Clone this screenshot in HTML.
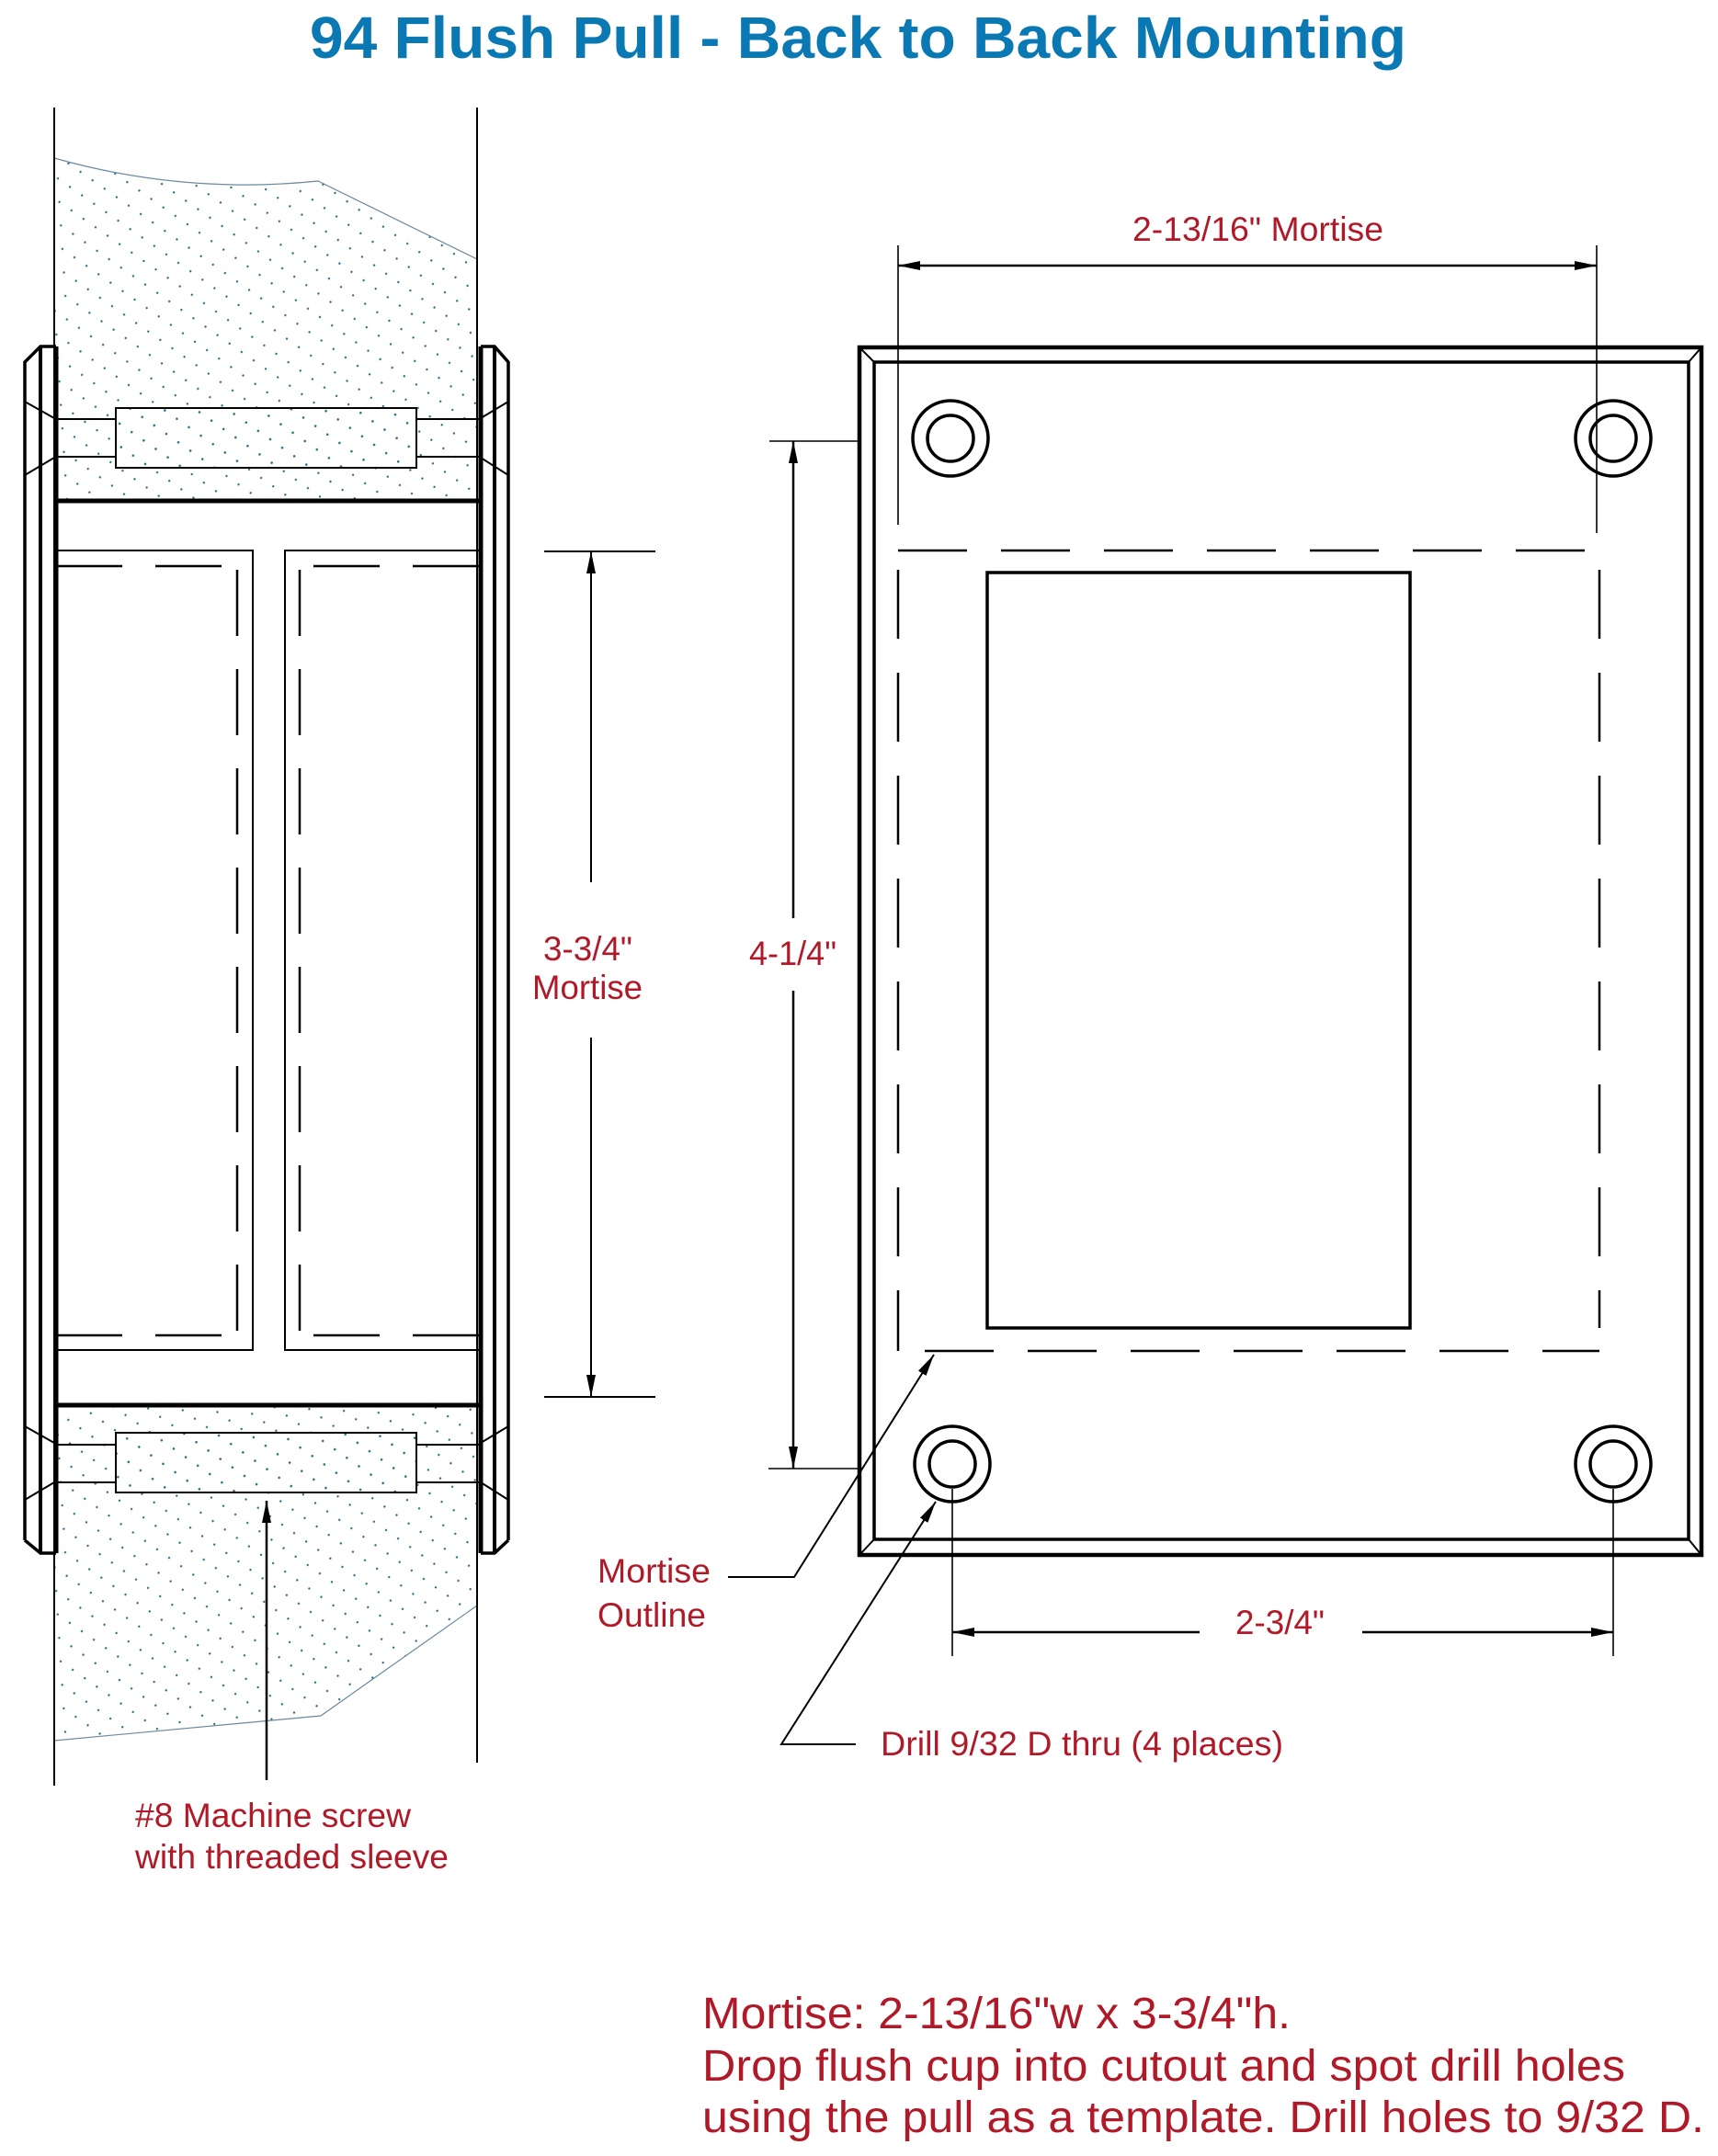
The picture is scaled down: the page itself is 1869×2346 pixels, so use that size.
<!DOCTYPE html>
<html><head><meta charset="utf-8"><style>
html,body{margin:0;padding:0;background:#fff;}
svg{display:block;}
text{font-family:"Liberation Sans",sans-serif;}
</style></head><body>
<svg width="1869" height="2346" viewBox="0 0 1869 2346" xmlns="http://www.w3.org/2000/svg">
<defs>
<pattern id="dots" width="16" height="20" patternUnits="userSpaceOnUse" patternTransform="rotate(35)">
<circle cx="3" cy="3" r="1.2" fill="#2f6f86"/>
</pattern>
<marker id="ar" viewBox="0 0 24 10" refX="24" refY="5" markerWidth="24" markerHeight="10" markerUnits="userSpaceOnUse" orient="auto">
<path d="M0,0 L24,5 L0,10 Z" fill="#000"/>
</marker>
</defs>

<text x="337" y="63" font-size="64" font-weight="bold" fill="#0a78b2" textLength="1193" lengthAdjust="spacingAndGlyphs">94 Flush Pull - Back to Back Mounting</text>

<!-- ===== LEFT VIEW ===== -->
<path d="M59 172 Q200 212 346 197 L519 282 L519 545 L59 545 Z" fill="url(#dots)" stroke="none"/>
<path d="M59 172 Q200 212 346 197 L519 282" fill="none" stroke="#6b8aa0" stroke-width="1.2"/>
<path d="M59 1529 L519 1529 L519 1747 L349 1867 L59 1894 Z" fill="url(#dots)" stroke="none"/>
<path d="M519 1747 L349 1867 L59 1894" fill="none" stroke="#6b8aa0" stroke-width="1.2"/>

<line x1="59" y1="117" x2="59" y2="1943" stroke="#000" stroke-width="2"/>
<line x1="519" y1="117" x2="519" y2="1918" stroke="#000" stroke-width="2"/>

<rect x="126" y="444" width="327" height="65" fill="url(#dots)" stroke="#000" stroke-width="2"/>
<rect x="126" y="1559" width="327" height="65" fill="url(#dots)" stroke="#000" stroke-width="2"/>
<g stroke="#000" stroke-width="2">
<line x1="59" y1="456" x2="126" y2="456"/><line x1="59" y1="497" x2="126" y2="497"/>
<line x1="453" y1="456" x2="521" y2="456"/><line x1="453" y1="497" x2="521" y2="497"/>
<line x1="59" y1="1572" x2="126" y2="1572"/><line x1="59" y1="1613" x2="126" y2="1613"/>
<line x1="453" y1="1572" x2="521" y2="1572"/><line x1="453" y1="1613" x2="521" y2="1613"/>
<line x1="27" y1="437" x2="59" y2="455"/><line x1="27" y1="517" x2="59" y2="498"/>
<line x1="27" y1="1552" x2="59" y2="1570"/><line x1="27" y1="1632" x2="59" y2="1613"/>
<line x1="553" y1="437" x2="523" y2="455"/><line x1="553" y1="517" x2="523" y2="498"/>
<line x1="553" y1="1552" x2="523" y2="1570"/><line x1="553" y1="1632" x2="523" y2="1613"/>
</g>

<g fill="none" stroke="#000" stroke-linejoin="miter">
<path d="M27 1676 L27 394 L44 377 L61 377" stroke-width="3.5"/>
<path d="M27 1676 L44 1690 L61 1690" stroke-width="3.5"/>
<line x1="44" y1="377" x2="44" y2="1690" stroke-width="4"/>
<line x1="61" y1="377" x2="61" y2="1690" stroke-width="5"/>
<path d="M553 1676 L553 394 L538 377 L523 377" stroke-width="3.5"/>
<path d="M553 1676 L538 1690 L523 1690" stroke-width="3.5"/>
<line x1="538" y1="377" x2="538" y2="1690" stroke-width="4"/>
<line x1="523" y1="377" x2="523" y2="1690" stroke-width="5"/>
<line x1="61" y1="545" x2="523" y2="545" stroke-width="5"/>
<line x1="61" y1="1529" x2="523" y2="1529" stroke-width="5"/>
<path d="M61 599 L275 599 L275 1469 L61 1469" stroke-width="2"/>
<path d="M521 599 L310 599 L310 1469 L521 1469" stroke-width="2"/>
<g stroke-width="2.5" stroke-dasharray="72 36">
<line x1="61" y1="616" x2="258" y2="616"/>
<line x1="258" y1="620" x2="258" y2="1453"/>
<line x1="61" y1="1453" x2="258" y2="1453"/>
<line x1="521" y1="616" x2="326" y2="616"/>
<line x1="326" y1="620" x2="326" y2="1453"/>
<line x1="521" y1="1453" x2="326" y2="1453"/>
</g>
</g>

<line x1="290" y1="1937" x2="290" y2="1633" stroke="#000" stroke-width="2.5" marker-end="url(#ar)"/>
<text x="147" y="1988" font-size="37" fill="#b01a28" textLength="300" lengthAdjust="spacingAndGlyphs">#8 Machine screw</text>
<text x="147" y="2033" font-size="37" fill="#b01a28" textLength="341" lengthAdjust="spacingAndGlyphs">with threaded sleeve</text>

<g stroke="#000" stroke-width="2">
<line x1="592" y1="600" x2="713" y2="600"/>
<line x1="592" y1="1520" x2="713" y2="1520"/>
<line x1="643" y1="960" x2="643" y2="600" marker-end="url(#ar)"/>
<line x1="643" y1="1129" x2="643" y2="1520" marker-end="url(#ar)"/>
</g>
<text x="591" y="1045" font-size="37" fill="#b01a28" textLength="97" lengthAdjust="spacingAndGlyphs">3-3/4"</text>
<text x="579" y="1087" font-size="37" fill="#b01a28" textLength="120" lengthAdjust="spacingAndGlyphs">Mortise</text>

<!-- ===== RIGHT VIEW ===== -->
<g fill="none" stroke="#000">
<rect x="935" y="378" width="916" height="1314" stroke-width="4.5"/>
<rect x="951" y="394" width="886" height="1281" stroke-width="3.5"/>
<g stroke-width="2">
<line x1="935" y1="378" x2="951" y2="394"/><line x1="1851" y1="378" x2="1837" y2="394"/>
<line x1="935" y1="1692" x2="951" y2="1675"/><line x1="1851" y1="1692" x2="1837" y2="1675"/>
</g>
<g stroke-width="3.5">
<circle cx="1034" cy="477" r="41"/><circle cx="1034" cy="477" r="25"/>
<circle cx="1755" cy="477" r="41"/><circle cx="1755" cy="477" r="25"/>
<circle cx="1036" cy="1593" r="41"/><circle cx="1036" cy="1593" r="25"/>
<circle cx="1755" cy="1593" r="41"/><circle cx="1755" cy="1593" r="25"/>
</g>
<rect x="1074" y="623" width="460" height="822" stroke-width="3.5"/>
<g stroke-width="2.5" stroke-dasharray="75 37">
<line x1="977" y1="599" x2="1740" y2="599"/>
<line x1="1006" y1="1470" x2="1740" y2="1470"/>
<line x1="977" y1="620" x2="977" y2="1470"/>
<line x1="1740" y1="620" x2="1740" y2="1445"/>
</g>
<g stroke-width="1.6">
<line x1="977" y1="267" x2="977" y2="571"/>
<line x1="1737" y1="267" x2="1737" y2="580"/>
<line x1="1036" y1="1620" x2="1036" y2="1802"/>
<line x1="1755" y1="1620" x2="1755" y2="1802"/>
<line x1="837" y1="480" x2="935" y2="480"/>
<line x1="836" y1="1598" x2="935" y2="1598"/>
</g>
<g stroke-width="2.5">
<line x1="1300" y1="289" x2="977" y2="289" marker-end="url(#ar)"/>
<line x1="1300" y1="289" x2="1737" y2="289" marker-end="url(#ar)"/>
<line x1="863" y1="999" x2="863" y2="480" marker-end="url(#ar)"/>
<line x1="863" y1="1078" x2="863" y2="1598" marker-end="url(#ar)"/>
<line x1="1305" y1="1776" x2="1036" y2="1776" marker-end="url(#ar)"/>
<line x1="1482" y1="1776" x2="1755" y2="1776" marker-end="url(#ar)"/>
</g>
<g stroke-width="2">
<polyline points="792,1716 864,1716 1016,1474" marker-end="url(#ar)"/>
<polyline points="931,1898 850,1898 1018,1634" marker-end="url(#ar)"/>
</g>
</g>
<text x="1232" y="262" font-size="37" fill="#b01a28" textLength="273" lengthAdjust="spacingAndGlyphs">2-13/16" Mortise</text>
<text x="815" y="1050" font-size="37" fill="#b01a28" textLength="95" lengthAdjust="spacingAndGlyphs">4-1/4"</text>
<text x="1344" y="1778" font-size="37" fill="#b01a28" textLength="97" lengthAdjust="spacingAndGlyphs">2-3/4"</text>
<text x="650" y="1722" font-size="37" fill="#b01a28" textLength="123" lengthAdjust="spacingAndGlyphs">Mortise</text>
<text x="650" y="1770" font-size="37" fill="#b01a28" textLength="118" lengthAdjust="spacingAndGlyphs">Outline</text>
<text x="958" y="1910" font-size="37" fill="#b01a28" textLength="438" lengthAdjust="spacingAndGlyphs">Drill 9/32 D thru (4 places)</text>

<text x="764" y="2207" font-size="48" fill="#b01a28" textLength="640" lengthAdjust="spacingAndGlyphs">Mortise: 2-13/16"w x 3-3/4"h.</text>
<text x="764" y="2264" font-size="48" fill="#b01a28" textLength="1004" lengthAdjust="spacingAndGlyphs">Drop flush cup into cutout and spot drill holes</text>
<text x="764" y="2320" font-size="48" fill="#b01a28" textLength="1090" lengthAdjust="spacingAndGlyphs">using the pull as a template. Drill holes to 9/32 D.</text>
</svg>
</body></html>
